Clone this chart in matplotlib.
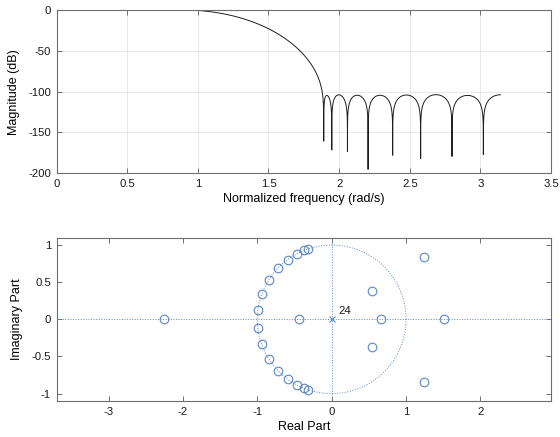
import numpy as np
import matplotlib
matplotlib.use("Agg")
import matplotlib.pyplot as plt

plt.rcParams['font.family'] = ['Liberation Sans', 'DejaVu Sans']
plt.rcParams['axes.unicode_minus'] = False
plt.rcParams['path.simplify'] = False

# Stopband nulls (rad/s): zeros sitting on the unit circle, upper half
null_freqs = [1.891, 1.948, 2.059, 2.205, 2.379, 2.577, 2.799, 3.021]

# Zeros off the unit circle (upper half plane and real axis)
off_zero_re = [-2.253, -0.441, 0.662, 1.515, 0.547, 1.237]
off_zero_im = [0.0, 0.0, 0.0, 0.0, 0.376, 0.841]

n_poles = 24

mag_xticks = [0, 0.5, 1, 1.5, 2, 2.5, 3, 3.5]
mag_yticks = [-200, -150, -100, -50, 0]
pz_xticks = [-3, -2, -1, 0, 1, 2]
pz_yticks = [-1, -0.5, 0, 0.5, 1]

LINE = '#6e6e6e'
BLUE = '#5a86c6'


def all_zeros():
    upper = [np.exp(1j * w) for w in null_freqs]
    upper += [complex(r, i) for r, i in zip(off_zero_re, off_zero_im)]
    zs = []
    for z in upper:
        zs.append(z)
        if abs(z.imag) > 1e-9:
            zs.append(np.conj(z))
    return np.array(zs)


def style_axes(ax):
    for sp in ax.spines.values():
        sp.set_color(LINE)
        sp.set_linewidth(0.8)
    ax.tick_params(direction='in', length=3.5, width=0.7, color=LINE,
                   labelsize=8.2, labelcolor='#1a1a1a', top=True, right=True, pad=4)


def freq_response(zeros, n):
    # product over zeros, so the nulls aren't lost to cancellation
    w = np.linspace(0, np.pi, n, endpoint=False)
    ejw = np.exp(1j * w)
    h = np.ones_like(ejw)
    for z in zeros:
        h *= ejw - z
    h0 = np.prod(1.0 - zeros)
    return w, 20 * np.log10(np.abs(h) / np.abs(h0))


def plot_magnitude(ax, zeros):
    w, mag = freq_response(zeros, 2 ** 16)
    ax.plot(w, mag, color='#1e1e1e', lw=0.7)
    ax.set_xlim(0, 3.5)
    ax.set_ylim(-200, 0)
    ax.set_xticks(mag_xticks)
    ax.set_xticklabels([f'{t:g}' for t in mag_xticks])
    ax.set_yticks(mag_yticks)
    ax.grid(True, color='#e4e4e4', lw=0.6)
    ax.set_axisbelow(True)
    ax.set_xlabel('Normalized frequency (rad/s)', fontsize=9, labelpad=3)
    ax.set_ylabel('Magnitude (dB)', fontsize=9, labelpad=6)
    style_axes(ax)


def plot_zplane(ax, zeros):
    xl, yl = (-3.70, 2.95), (-1.1, 1.1)
    t = np.linspace(0, 2 * np.pi, 400)
    ax.plot(np.cos(t), np.sin(t), ':', color=BLUE, lw=0.7)
    ax.plot(xl, [0, 0], ':', color=BLUE, lw=0.7)
    ax.plot([0, 0], [-1.0, 1.05], ':', color=BLUE, lw=0.7)
    ax.plot(zeros.real, zeros.imag, 'o', ms=6.2, mfc='none', mec=BLUE, mew=0.8)
    ax.plot([0], [0], 'x', ms=4.5, mec=BLUE, mew=0.8)
    ax.text(0.09, 0.04, str(n_poles), fontsize=8.2, color='#1a1a1a',
            ha='left', va='bottom')
    ax.set_xlim(*xl)
    ax.set_ylim(*yl)
    ax.set_xticks(pz_xticks)
    ax.set_yticks(pz_yticks)
    ax.set_yticklabels([f'{t:g}' for t in pz_yticks])
    ax.set_xlabel('Real Part', fontsize=9, labelpad=3)
    ax.set_ylabel('Imaginary Part', fontsize=9, labelpad=6)
    style_axes(ax)


if __name__ == "__main__":
    zeros = all_zeros()

    fig = plt.figure(figsize=(5.6, 4.37), dpi=100)
    ax1 = fig.add_axes([0.101, 0.6034, 0.883, 0.3737])
    ax2 = fig.add_axes([0.101, 0.0824, 0.883, 0.3737])

    plot_magnitude(ax1, zeros)
    plot_zplane(ax2, zeros)

    fig.savefig('out.png', dpi=100)
    plt.close('all')
